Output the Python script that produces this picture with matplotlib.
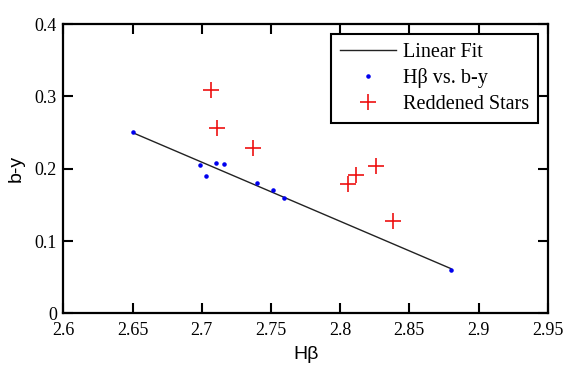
import matplotlib
matplotlib.use("Agg")
import matplotlib.pyplot as plt
import numpy as np

# H-beta vs. b-y for the comparison stars
hbeta = [2.6506, 2.6987, 2.7028, 2.7100, 2.7160, 2.7401, 2.7516, 2.7596, 2.8800]
by = [0.2513, 0.2048, 0.1896, 0.2076, 0.2062, 0.1803, 0.1702, 0.1592, 0.0599]

# reddened stars
hbetaRed = [2.7064, 2.7108, 2.7368, 2.8054, 2.8111, 2.8256, 2.8381]
byRed = [0.3090, 0.2561, 0.2284, 0.1794, 0.1910, 0.2035, 0.1273]

xTicks = [2.6, 2.65, 2.7, 2.75, 2.8, 2.85, 2.9, 2.95]
xTickLabels = ["2.6", "2.65", "2.7", "2.75", "2.8", "2.85", "2.9", "2.95"]
yTicks = [0, 0.1, 0.2, 0.3, 0.4]
yTickLabels = ["0", "0.1", "0.2", "0.3", "0.4"]

serif = "Liberation Serif"
sans = "Liberation Sans"

# linear fit over the comparison stars
coef = np.polyfit(hbeta, by, 1)
xFit = np.array([min(hbeta), max(hbeta)])
yFit = np.polyval(coef, xFit)

fig = plt.figure(figsize=(5.76, 3.84), dpi=100)
ax = fig.add_axes([0.11, 0.184, 0.841, 0.753])

ax.plot(xFit, yFit, color="#222222", lw=1.0, label="Linear Fit")
ax.plot(hbeta, by, ".", color="#0000ee", ms=4.5, label="H\u03b2 vs. b-y")
ax.plot(hbetaRed, byRed, "+", color="#ee1111", ms=11, mew=1.2, ls="none",
        label="Reddened Stars")

ax.set_xlim(2.6, 2.95)
ax.set_ylim(0, 0.4)
ax.set_xticks(xTicks)
ax.set_xticklabels(xTickLabels, fontname=serif, fontsize=13)
ax.set_yticks(yTicks)
ax.set_yticklabels(yTickLabels, fontname=serif, fontsize=13)
ax.tick_params(direction="in", length=7.5, width=1.5, top=True, right=True)
ax.tick_params(axis="x", pad=6)
ax.tick_params(axis="y", pad=4.5)
for s in ax.spines.values():
    s.set_linewidth(1.6)

ax.set_xlabel("H\u03b2", fontname=sans, fontsize=14, labelpad=5.5)
ax.set_ylabel("b-y", fontname=sans, fontsize=14, labelpad=7)

leg = ax.legend(loc="upper right", prop={"family": serif, "size": 14.5},
                fancybox=False, framealpha=1, edgecolor="black",
                handlelength=2.8, borderaxespad=0.5, borderpad=0.45,
                labelspacing=0.3, handletextpad=0.3)
leg.get_frame().set_linewidth(1.5)

fig.savefig("out.png", dpi=100)
